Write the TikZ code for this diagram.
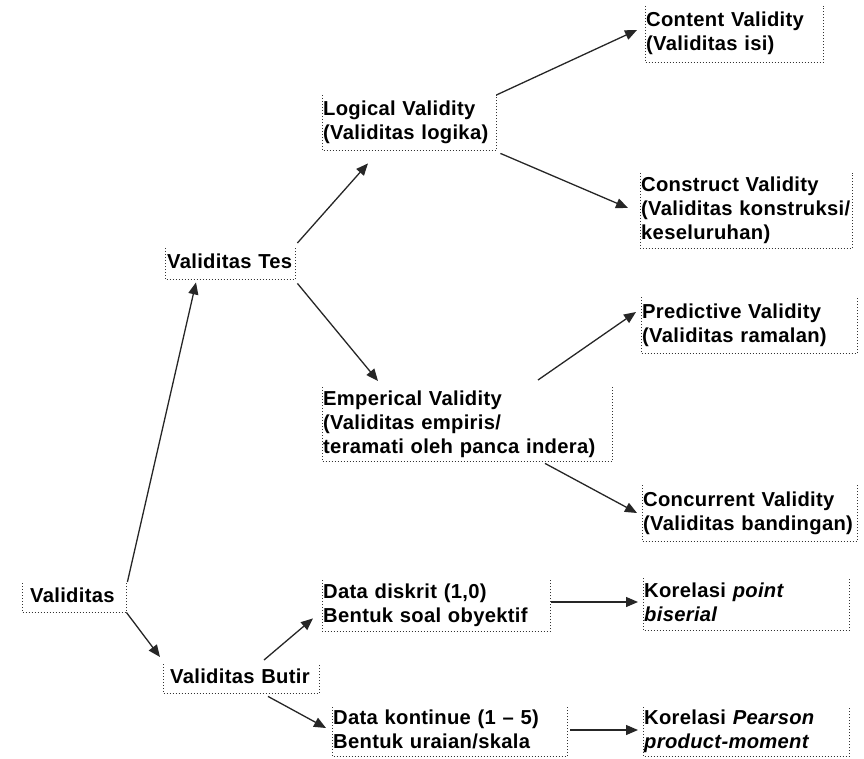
\documentclass[tikz,border=0pt]{standalone}
\usepackage{fontspec}
\setmainfont{Liberation Sans}[LetterSpace=1.5]
\usetikzlibrary{arrows.meta,calc}
\newcommand\mytx[1]{\begin{tabular}{@{}l@{}}#1\end{tabular}}
\tikzset{
  bx/.style={draw=none, anchor=north west, inner xsep=2pt, inner ysep=0pt, align=left,
    font=\fontsize{20.2}{24}\selectfont\bfseries},
  frame/.style={draw=black!80, line width=1pt, dotted},
  arr/.style={draw=black!85, line width=1.3pt, -{Triangle[length=12pt,width=10pt]}}
}
\newcommand\boxedges[1]{\draw[frame] (#1.north west) -- (#1.south west) -- (#1.south east) -- (#1.north east);}
\begin{document}
\begin{tikzpicture}[x=1pt,y=-1pt]
\useasboundingbox (0,0) rectangle (864,759);
\node[bx, inner xsep=8pt, text width=88pt, minimum height=29pt] (v) at (22,583) {\mytx{Validitas}};
\node[bx, text width=126pt, minimum height=31pt] (vt) at (165,248) {\mytx{Validitas Tes}};
\node[bx, inner xsep=1pt, text width=172pt, minimum height=55pt] (lv) at (322,95) {\mytx{Logical Validity\\(Validitas logika)}};
\node[bx, inner xsep=1pt, text width=176pt, minimum height=56pt] (cv) at (645,6) {\mytx{Content Validity\\(Validitas isi)}};
\node[bx, inner xsep=1pt, text width=210pt, minimum height=75pt] (cn) at (640,173) {\mytx{Construct Validity\\(Validitas konstruksi/\\keseluruhan)}};
\node[bx, inner xsep=1pt, text width=288pt, minimum height=74pt] (ev) at (322,387) {\mytx{Emperical Validity\\(Validitas empiris/\\teramati oleh panca indera)}};
\node[bx, inner xsep=1pt, text width=214pt, minimum height=56pt] (pv) at (641,297) {\mytx{Predictive Validity\\(Validitas ramalan)}};
\node[bx, inner xsep=1pt, text width=213pt, minimum height=56pt] (cc) at (642,485) {\mytx{Concurrent Validity\\(Validitas bandingan)}};
\node[bx, inner xsep=1pt, text width=226pt, minimum height=51pt] (dd) at (322,580) {\mytx{Data diskrit (1,0)\\Bentuk soal obyektif}};
\node[bx, inner xsep=7pt, text width=142pt, minimum height=29pt] (vb) at (163,664) {\mytx{Validitas Butir}};
\node[bx, inner xsep=1pt, text width=233pt, minimum height=49pt] (dk) at (332,707) {\mytx{Data kontinue (1 -- 5)\\Bentuk uraian/skala}};
\node[bx, inner xsep=1pt, text width=204pt, minimum height=52pt] (kp) at (643,578) {\mytx{Korelasi \textit{point}\\\textit{biserial}}};
\node[bx, inner xsep=1pt, text width=204pt, minimum height=49pt] (kP) at (643,707) {\mytx{Korelasi \textit{Pearson}\\\textit{product-moment}}};
\foreach \n in {v,vt,lv,cv,cn,ev,pv,cc,dd,vb,dk,kp,kP} {\boxedges{\n}}
\draw[arr] ($(v.north east)+(1,-1)$) -- ($(vt.south west)+(31,3)$);
\draw[arr] (v.south east) -- ($(vb.north west)+(-3,-7)$);
\draw[arr] ($(vt.north east)+(2,-5)$) -- ($(lv.south west)+(46,13)$);
\draw[arr] ($(vt.south east)+(2,4)$) -- ($(ev.north west)+(56,-6)$);
\draw[arr] (lv.north east) -- ($(cv.north west)+(-8,24)$);
\draw[arr] ($(lv.south east)+(4,3)$) -- ($(cn.north west)+(-12,35)$);
\draw[arr] ($(ev.north west)+(216,-7)$) -- ($(pv.north west)+(-5,15)$);
\draw[arr] ($(ev.south west)+(223,2)$) -- ($(cc.north west)+(-5,28)$);
\draw[arr] ($(vb.north west)+(101,-4)$) -- ($(dd.south west)+(-9,-13)$);
\draw[arr] ($(vb.south west)+(105,3)$) -- ($(dk.north west)+(-6,21)$);
\draw[arr] ($(dd.north east)+(1,22)$) -- ($(kp.north west)+(-5,24)$);
\draw[arr] ($(dk.north east)+(3,23)$) -- ($(kP.north west)+(-5,23)$);
\end{tikzpicture}
\end{document}
